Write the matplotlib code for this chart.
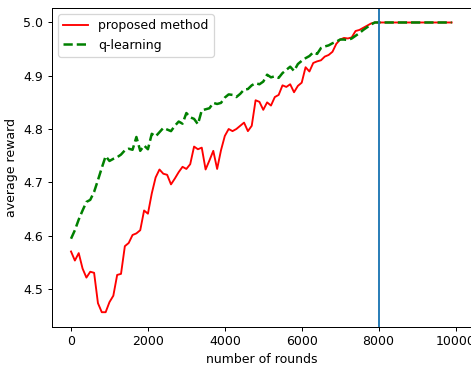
import numpy as np
import matplotlib
matplotlib.use("Agg")
import matplotlib.pyplot as plt

rounds = np.arange(0, 10000, 100)

proposed = [
    4.570, 4.553, 4.567, 4.538, 4.521, 4.532, 4.530, 4.473, 4.456, 4.456,
    4.475, 4.487, 4.526, 4.528, 4.580, 4.586, 4.601, 4.604, 4.610, 4.647,
    4.641, 4.679, 4.709, 4.724, 4.716, 4.714, 4.696, 4.707, 4.719, 4.729,
    4.725, 4.734, 4.767, 4.762, 4.765, 4.724, 4.741, 4.759, 4.725, 4.760,
    4.787, 4.800, 4.796, 4.800, 4.806, 4.812, 4.796, 4.806, 4.854, 4.851,
    4.836, 4.850, 4.844, 4.860, 4.864, 4.882, 4.879, 4.884, 4.869, 4.881,
    4.887, 4.916, 4.908, 4.924, 4.927, 4.929, 4.936, 4.939, 4.945, 4.960,
    4.968, 4.971, 4.970, 4.972, 4.984, 4.986, 4.990, 4.994, 4.998, 5.000,
    5.000, 5.000, 5.000, 5.000, 5.000, 5.000, 5.000, 5.000, 5.000, 5.000,
    5.000, 5.000, 5.000, 5.000, 5.000, 5.000, 5.000, 5.000, 5.000, 5.000,
]

qlearning = [
    4.594, 4.610, 4.630, 4.647, 4.663, 4.667, 4.682, 4.704, 4.727, 4.749,
    4.740, 4.744, 4.747, 4.752, 4.760, 4.763, 4.761, 4.785, 4.759, 4.769,
    4.762, 4.791, 4.786, 4.794, 4.802, 4.799, 4.796, 4.806, 4.814, 4.810,
    4.830, 4.822, 4.819, 4.809, 4.835, 4.837, 4.839, 4.849, 4.847, 4.849,
    4.859, 4.865, 4.864, 4.860, 4.866, 4.874, 4.875, 4.882, 4.886, 4.884,
    4.889, 4.902, 4.897, 4.899, 4.896, 4.905, 4.911, 4.917, 4.909, 4.922,
    4.928, 4.933, 4.937, 4.944, 4.941, 4.952, 4.955, 4.957, 4.961, 4.964,
    4.968, 4.968, 4.967, 4.970, 4.975, 4.980, 4.986, 4.991, 4.996, 5.000,
    5.000, 5.000, 5.000, 5.000, 5.000, 5.000, 5.000, 5.000, 5.000, 5.000,
    5.000, 5.000, 5.000, 5.000, 5.000, 5.000, 5.000, 5.000, 5.000, 5.000,
]

switch_round = 8000

# rendered a bit smaller than the default 100 dpi, like the reference
dpi = 90
fig = plt.figure(figsize=(471 / dpi, 365 / dpi), dpi=dpi)
ax = fig.add_axes([52 / 471, 38.3 / 365, 418.7 / 471, 318.7 / 365])

ax.plot(rounds, proposed, color="r", linewidth=1.5, label="proposed method")
ax.plot(rounds, qlearning, color="g", linestyle="--", linewidth=2, label="q-learning")
ax.axvline(switch_round)

ax.set_xlabel("number of rounds")
ax.set_ylabel("average reward")
ax.legend(loc="upper left")

fig.savefig("out.png", dpi=dpi)
